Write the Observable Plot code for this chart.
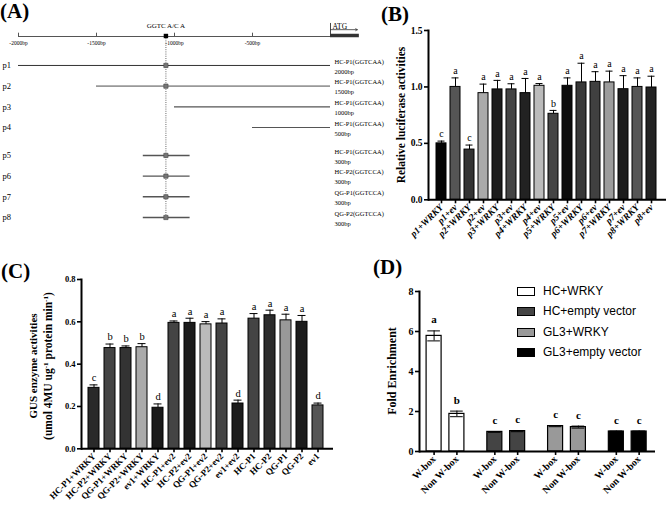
<!DOCTYPE html>
<html>
<head>
<meta charset="utf-8">
<script src="https://cdn.jsdelivr.net/npm/d3@7"></script>
<script src="https://cdn.jsdelivr.net/npm/@observablehq/plot@0.6"></script>
<style>
  body { margin: 0; background: #fff; }
  #wrap { position: relative; width: 667px; height: 510px; overflow: hidden; background: #fff;
          font-family: "Liberation Serif", "Times New Roman", serif; color: #000; }
  #wrap svg { position: absolute; left: 0; top: 0; background: transparent !important; }
  .ptitle { position: absolute; font-weight: bold; font-size: 21px; line-height: 24px; white-space: nowrap; }
  .ytitle { position: absolute; font-weight: bold; white-space: nowrap; line-height: 1;
            transform: translate(-50%, -50%) rotate(-90deg); }
  .ytitle sup { font-size: 0.62em; vertical-align: 0.55em; line-height: 0; }
  .leg { position: absolute; font-family: "Liberation Sans", Arial, sans-serif; font-size: 12px; white-space: nowrap; line-height: 1; }
  .sw { position: absolute; width: 16px; height: 7px; border: 1px solid #000; }
</style>
</head>
<body>
<div id="wrap">
  <div class="ptitle" style="left:0px;top:-1px">(A)</div>
  <div class="ptitle" style="left:381px;top:1.5px">(B)</div>
  <div class="ptitle" style="left:1px;top:259px">(C)</div>
  <div class="ptitle" style="left:373px;top:255px">(D)</div>
  <div class="ytitle" style="left:402px;top:115px;font-size:11.5px">Relative luciferase activities</div>
  <div class="ytitle" style="left:33px;top:366px;font-size:11px">GUS enzyme activities</div>
  <div class="ytitle" style="left:49px;top:366px;font-size:11.5px">(umol 4MU ug<sup>-1</sup> protein min<sup>-1</sup>)</div>
  <div class="ytitle" style="left:392px;top:371px;font-size:12px">Fold Enrichment</div>
</div>
<script>
// ---------------- Panel A: promoter fragments ----------------
const aRows = ["p1", "p2", "p3", "p4", "p5", "p6", "p7", "p8"];
const aStarts = [-2000, -1500, -1000, -500, -1200, -1200, -1200, -1200];
const aEnds = [0, 0, 0, 0, -900, -900, -900, -900];
const aNames = ["HC-P1(GGTCAA)", "HC-P1(GGTCAA)", "HC-P1(GGTCAA)", "HC-P1(GGTCAA)",
                "HC-P1(GGTCAA)", "HC-P2(GGTCCA)", "QG-P1(GGTCCA)", "QG-P2(GGTCCA)"];
const aLengths = ["2000bp", "1500bp", "1000bp", "500bp", "300bp", "300bp", "300bp", "300bp"];
const aHasSite = [true, true, false, false, true, true, true, true];
const aStruck = [false, false, true, true, false, false, false, false];
const aTicks = [-2000, -1500, -1000, -500];
const aSitePos = -1055;
const aSiteText = "GGTC A/C A";
const aAtgEnd = 185;
const aArrowEnd = 172;

// ---------------- Panel B: luciferase ----------------
const bLabels = ["p1+WRKY", "p1+ev", "p2+WRKY", "p2+ev", "p3+WRKY", "p3+ev", "p4+WRKY", "p4+ev",
                 "p5+WRKY", "p5+ev", "p6+WRKY", "p6+ev", "p7+WRKY", "p7+ev", "p8+WRKY", "p8+ev"];
const bValues = [0.50, 1.00, 0.445, 0.945, 0.978, 0.978, 0.945, 1.01, 0.762, 1.01, 1.04, 1.045, 1.04, 0.98, 1.0, 0.995];
const bErrors = [0.02, 0.08, 0.04, 0.08, 0.08, 0.05, 0.13, 0.02, 0.03, 0.07, 0.17, 0.09, 0.10, 0.12, 0.08, 0.10];
const bLetters = ["c", "a", "c", "a", "a", "a", "a", "a", "b", "a", "a", "a", "a", "a", "a", "a"];

// ---------------- Panel C: GUS ----------------
const cLabels = ["HC-P1+WRKY", "HC-P2+WRKY", "QG-P1+WRKY", "QG-P2+WRKY", "ev1+WRKY",
                 "HC-P1+ev2", "HC-P2+ev2", "QG-P1+ev2", "QG-P2+ev2", "ev1+ev2",
                 "HC-P1", "HC-P2", "QG-P1", "QG-P2", "ev1"];
const cValues = [0.288, 0.476, 0.476, 0.480, 0.194, 0.595, 0.595, 0.588, 0.592, 0.214, 0.615, 0.631, 0.607, 0.600, 0.205];
const cErrors = [0.014, 0.019, 0.010, 0.017, 0.018, 0.009, 0.022, 0.013, 0.022, 0.016, 0.024, 0.024, 0.029, 0.030, 0.011];
const cLetters = ["c", "b", "b", "b", "d", "a", "a", "a", "a", "d", "a", "a", "a", "a", "d"];

// ---------------- Panel D: ChIP fold enrichment ----------------
const dGroups = ["HC+WRKY", "HC+empty vector", "GL3+WRKY", "GL3+empty vector"];
const dSites = ["W-box", "Non W-box"];
const dWboxValues = [5.78, 0.98, 1.27, 1.00];
const dNonWboxValues = [1.88, 1.02, 1.22, 1.00];
const dWboxErrors = [0.25, 0.02, 0.03, 0.02];
const dNonWboxErrors = [0.14, 0.03, 0.05, 0.02];
const dWboxLetters = ["a", "c", "c", "c"];
const dNonWboxLetters = ["b", "c", "c", "c"];

// ---------------- styles (kept apart from the data) ----------------
const aLineColors = ["#333", "#999", "#555", "#555", "#555", "#555", "#555", "#555"];
const aLineWidths = [1, 1.8, 1.1, 1.2, 1.4, 1.4, 1.4, 1.4];
const bPalette = ["#050505", "#555", "#333", "#aaa", "#1c1c1c", "#444", "#222", "#bbb",
                  "#444", "#0c0c0c", "#383838", "#404040", "#9c9c9c", "#1c1c1c", "#555", "#222"];
const cPalette = ["#2a2a2a", "#444", "#333", "#aaa", "#1a1a1a", "#444", "#1c1c1c", "#bbb",
                  "#444", "#1c1c1c", "#444", "#2c2c2c", "#999", "#1c1c1c", "#555"];
const dPalette = ["#ffffff", "#444444", "#999999", "#000000"];

const W = 667, H = 510;
const base = { fontFamily: "'Liberation Serif', 'Times New Roman', serif", fontSize: "9px",
               fontWeight: "bold", background: "transparent", overflow: "visible", color: "#000" };
const wrap = document.getElementById("wrap");

// ======== Panel A ========
const track = i => 1.4 + i + (i >= 4 ? 0.35 : 0);
const aData = aRows.map((row, i) => ({
  row, start: aStarts[i], end: aEnds[i], name: aNames[i], len: aLengths[i],
  site: aHasSite[i], struck: aStruck[i], track: track(i),
  color: aLineColors[i], width: aLineWidths[i]
}));
const aLast = track(aRows.length - 1);

const plotA = Plot.plot({
  width: W, height: H, marginLeft: 18, marginRight: 337, marginTop: 36, marginBottom: H - 217,
  x: { domain: [-2000, 0], range: [18, 330], axis: null },
  y: { domain: [0, 8.75], range: [36, 217], axis: null },
  color: { type: "identity" },
  style: { ...base, fontWeight: "normal" },
  marks: [
    Plot.ruleY([0], { x1: -2000, x2: 0, stroke: "#555", strokeWidth: 1 }),
    Plot.ruleX(aTicks, { x: d => d, y1: 0, y2: -0.16, stroke: "#555", strokeWidth: 1 }),
    Plot.text(aTicks, { x: d => d, y: 0, dy: 7, text: d => `${d}bp`, fontSize: 5.5, fill: "#000" }),
    Plot.ruleX([aSitePos], { x: d => d, y1: 0, y2: aLast + 0.1, stroke: "#444", strokeWidth: 0.8, strokeDasharray: "1,1.2" }),
    Plot.dot([aSitePos], { x: d => d, y: 0, dy: -0.5, symbol: "square", r: 2.5, fill: "#000", stroke: "none" }),
    Plot.text([aSiteText], { x: aSitePos, y: 0, dy: -11, text: d => d, fontSize: 7, fill: "#000" }),
    Plot.ruleY([0], { x1: 0, x2: aAtgEnd, dy: -1, stroke: "#333", strokeWidth: 3.5 }),
    Plot.ruleX([0], { x: d => d, y1: 0, y2: -0.63, stroke: "#333", strokeWidth: 0.9 }),
    Plot.arrow([0], { x1: 0, x2: aArrowEnd, y1: -0.33, y2: -0.33, headLength: 3.5, strokeWidth: 0.8, stroke: "#333" }),
    Plot.text(["ATG"], { x: 0, y: -0.33, dx: 2, dy: -1, text: d => d, textAnchor: "start", lineAnchor: "bottom", fontSize: 7.5, fill: "#000" }),
    Plot.ruleY(aData, { y: "track", x1: "start", x2: "end", stroke: "color", strokeWidth: "width" }),
    Plot.dot(aData.filter(d => d.site), { x: aSitePos, y: "track", symbol: "square", r: 2.4, fill: "#777", stroke: "#444", strokeWidth: 0.6 }),
    Plot.text(aData, { x: -2000, y: "track", dx: -16, text: "row", textAnchor: "start", fontSize: 8.5, fill: "#000" }),
    Plot.text(aData.filter(d => !d.struck), { x: 0, y: "track", dx: 4, text: d => d.name + "\n" + d.len,
      textAnchor: "start", lineAnchor: "middle", lineHeight: 1.55, fontSize: 6.5, fill: "#000" }),
    Plot.text(aData.filter(d => d.struck), { x: 0, y: "track", dx: 4, text: d => d.name + "\n" + d.len,
      textAnchor: "start", lineAnchor: "middle", lineHeight: 1.55, fontSize: 6.5, fill: "#000", ariaLabel: "struck labels" })
  ]
});
wrap.appendChild(plotA);
// strike through the mutated "GGTC" core in p3 / p4 labels
plotA.querySelectorAll('g[aria-label="struck labels"] text').forEach(t => {
  const first = t.querySelector("tspan") || t;
  const s = first.textContent;
  const i = s.indexOf("GGTC");
  if (i < 0) return;
  first.textContent = "";
  const ts = document.createElementNS("http://www.w3.org/2000/svg", "tspan");
  ts.setAttribute("style", "text-decoration: line-through");
  ts.textContent = s.slice(i, i + 4);
  first.append(s.slice(0, i), ts, s.slice(i + 4));
});

// ======== Panel B ========
const bData = bLabels.map((label, i) => ({ label, value: bValues[i], err: bErrors[i], letter: bLetters[i] }));
const plotB = Plot.plot({
  width: W, height: H, marginLeft: 428, marginRight: 1, marginTop: 30, marginBottom: H - 199.3,
  x: { domain: bLabels, range: [427.8, 664.5], padding: 0.311 },
  y: { domain: [0, 1.5], range: [199.3, 30] },
  color: { type: "ordinal", domain: bLabels, range: bPalette },
  style: base,
  marks: [
    Plot.barY(bData, { x: "label", y: "value", fill: "label", stroke: "#000", strokeWidth: 1 }),
    Plot.ruleX(bData, { x: "label", y1: "value", y2: d => d.value + d.err, stroke: "#000", strokeWidth: 1 }),
    Plot.tickY(bData, { x: "label", y: d => d.value + d.err, insetLeft: 1.5, insetRight: 1.5, stroke: "#000", strokeWidth: 1 }),
    Plot.text(bData, { x: "label", y: d => d.value + d.err, dy: -7, text: "letter", fontSize: 10, fontWeight: "normal", fill: "#000" }),
    Plot.ruleY([0], { strokeWidth: 2, stroke: "#000" }),
    Plot.frame({ anchor: "left", strokeWidth: 2, stroke: "#000" }),
    Plot.axisY({ ticks: [0, 0.5, 1, 1.5], tickFormat: d3.format(".1f"), tickSize: 4, tickPadding: 2,
                 strokeWidth: 1.6, fontSize: 9.5, label: null }),
    Plot.axisX({ tickSize: 4, tickPadding: 2, tickRotate: -45, strokeWidth: 1.6, fontSize: 9.5,
                 fontStyle: "italic", label: null })
  ]
});
wrap.appendChild(plotB);

// ======== Panel C ========
const cData = cLabels.map((label, i) => ({ label, value: cValues[i], err: cErrors[i], letter: cLetters[i] }));
const plotC = Plot.plot({
  width: W, height: H, marginLeft: 81, marginRight: W - 333, marginTop: 279, marginBottom: H - 448.3,
  x: { domain: cLabels, range: [79.6, 330.5], padding: 0.328 },
  y: { domain: [0, 0.8], range: [448.3, 279] },
  color: { type: "ordinal", domain: cLabels, range: cPalette },
  style: base,
  marks: [
    Plot.barY(cData, { x: "label", y: "value", fill: "label", stroke: "#000", strokeWidth: 1 }),
    Plot.ruleX(cData, { x: "label", y1: "value", y2: d => d.value + d.err, stroke: "#000", strokeWidth: 1 }),
    Plot.tickY(cData, { x: "label", y: d => d.value + d.err, insetLeft: 1.5, insetRight: 1.5, stroke: "#000", strokeWidth: 1 }),
    Plot.text(cData, { x: "label", y: d => d.value + d.err, dy: -7, text: "letter", fontSize: 10.5, fontWeight: "normal", fill: "#000" }),
    Plot.ruleY([0], { strokeWidth: 2, stroke: "#000" }),
    Plot.frame({ anchor: "left", strokeWidth: 2, stroke: "#000" }),
    Plot.axisY({ ticks: [0, 0.2, 0.4, 0.6, 0.8], tickFormat: d3.format(".1f"), tickSize: 4, tickPadding: 2,
                 strokeWidth: 1.6, fontSize: 8.5, label: null }),
    Plot.axisX({ tickSize: 4, tickPadding: 2, tickRotate: -45, strokeWidth: 1.6, fontSize: 9, label: null })
  ]
});
wrap.appendChild(plotC);

// ======== Panel D ========
const offset = 0.1877, half = 0.1235, cap = 0.104;
const dData = [];
dGroups.forEach((group, g) => {
  dSites.forEach((site, s) => {
    dData.push({
      group, site,
      pos: g + (s === 0 ? -offset : offset),
      value: s === 0 ? dWboxValues[g] : dNonWboxValues[g],
      err: s === 0 ? dWboxErrors[g] : dNonWboxErrors[g],
      letter: s === 0 ? dWboxLetters[g] : dNonWboxLetters[g]
    });
  });
});
const dTickLabel = new Map(dData.map(d => [d.pos, d.site]));
const plotD = Plot.plot({
  width: W, height: H, marginLeft: 419, marginRight: W - 655, marginTop: 291, marginBottom: H - 451,
  x: { domain: [-0.428, 3.457], range: [419, 655] },
  y: { domain: [0, 8], range: [451, 291] },
  color: { type: "ordinal", domain: dGroups, range: dPalette },
  style: base,
  marks: [
    Plot.rect(dData, { x1: d => d.pos - half, x2: d => d.pos + half, y1: 0, y2: "value", fill: "group", stroke: "#000", strokeWidth: 1.2 }),
    Plot.ruleX(dData, { x: "pos", y1: d => d.value - d.err, y2: d => d.value + d.err, stroke: "#000", strokeWidth: 1 }),
    Plot.ruleY(dData, { y: d => d.value + d.err, x1: d => d.pos - cap, x2: d => d.pos + cap, stroke: "#000", strokeWidth: 1 }),
    Plot.ruleY(dData, { y: d => d.value - d.err, x1: d => d.pos - cap, x2: d => d.pos + cap, stroke: "#000", strokeWidth: 1 }),
    Plot.text(dData, { x: "pos", y: d => d.value + d.err, dy: -11, text: "letter", fontSize: 11, fill: "#000" }),
    Plot.ruleY([0], { strokeWidth: 2, stroke: "#000" }),
    Plot.frame({ anchor: "left", strokeWidth: 2, stroke: "#000" }),
    Plot.axisY({ ticks: [0, 2, 4, 6, 8], tickFormat: d => String(d), tickSize: 4, tickPadding: 2,
                 strokeWidth: 1.6, fontSize: 10, label: null }),
    Plot.axisX({ ticks: dData.map(d => d.pos), tickFormat: d => dTickLabel.get(d), tickSize: 4, tickPadding: 2,
                 tickRotate: -45, strokeWidth: 1.6, fontSize: 10, label: null })
  ]
});
wrap.appendChild(plotD);

// legend for panel D
const legTop = 291.3, legStep = 20.5;
dGroups.forEach((g, i) => {
  const cy = legTop + i * legStep;
  const sw = document.createElement("div");
  sw.className = "sw";
  sw.style.left = "517px";
  sw.style.top = (cy - 4.5) + "px";
  sw.style.background = dPalette[i];
  wrap.appendChild(sw);
  const t = document.createElement("div");
  t.className = "leg";
  t.style.left = "543px";
  t.style.top = (cy - 6.5) + "px";
  t.textContent = g;
  wrap.appendChild(t);
});
</script>
</body>
</html>
